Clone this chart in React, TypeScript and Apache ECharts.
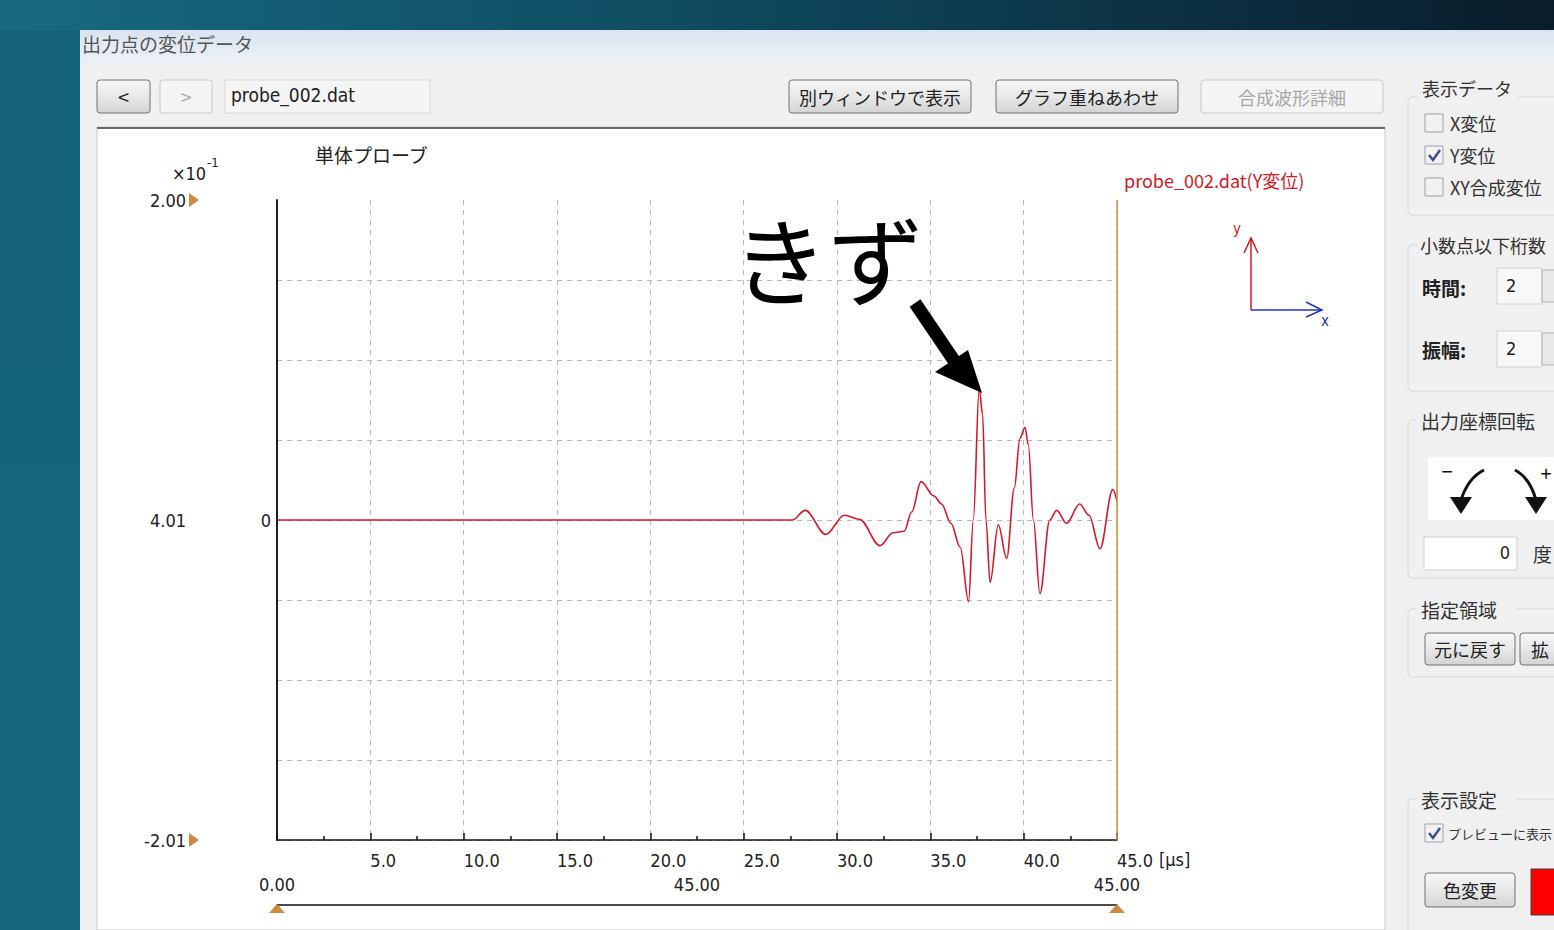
import React, { useEffect, useRef } from "react";
import * as echarts from "echarts";

// ---- data (time in µs, Y displacement) ----
const times = [0, 27.6, 28.3, 29.4, 30.4, 31.2, 32.3, 33.0, 33.6, 34.0, 34.5, 35.2, 35.6, 36.1, 36.6, 37.05, 37.3, 37.62, 37.8, 37.98, 38.2, 38.64, 39.09, 39.5, 39.8, 40.07, 40.25, 40.52, 40.87, 41.4, 41.77, 42.3, 43.0, 43.5, 44.09, 44.77, 45.0];
const values = [0, 0, 0.006, -0.009, 0.003, 0.0005, -0.016, -0.008, -0.007, 0.005, 0.024, 0.015, 0.01, -0.002, -0.017, -0.051, 0, 0.082, 0.066, 0, -0.039, -0.003, -0.024, 0.02, 0.051, 0.058, 0.047, 0, -0.046, 0, 0.006, -0.002, 0.01, 0.003, -0.018, 0.019, 0.012];
const seriesName = "probe_002.dat(Y変位)";
const outerTickLabels: Record<string, string> = { "0.2": "2.00", "0": "4.01", "-0.2": "-2.01" };
const sliderLabels: Record<string, string> = { "0": "0.00", "22.5": "45.00", "45": "45.00" };

const JP = "'Noto Sans CJK JP', 'Noto Sans', sans-serif";
const NUM = "'Liberation Sans Narrow', 'DejaVu Sans Condensed', 'Noto Sans', sans-serif";
const ORANGE = "#d08a40";

function button(x: number, y: number, w: number, h: number, label: string, disabled = false, fs = 18): any[] {
  return [
    {
      type: "rect", z: 50,
      shape: { x, y, width: w, height: h, r: 3 },
      style: disabled
        ? { fill: "#f4f4f4", stroke: "#c8c8c8", lineWidth: 1 }
        : { fill: new echarts.graphic.LinearGradient(0, 0, 0, 1, [{ offset: 0, color: "#f6f6f6" }, { offset: 0.5, color: "#e8e8e8" }, { offset: 1, color: "#d4d4d4" }]), stroke: "#707070", lineWidth: 1 },
    },
    {
      type: "text", z: 51,
      style: { text: label, x: x + w / 2, y: y + h / 2, textAlign: "center", textVerticalAlign: "middle", fontSize: fs, fontFamily: JP, fill: disabled ? "#a8a8a8" : "#222" },
    },
  ];
}

function jpText(text: string, x: number, y: number, fs = 18, fill = "#333", weight: any = "normal"): any {
  return { type: "text", z: 51, style: { text, x, y, textVerticalAlign: "middle", fontSize: fs, fontFamily: JP, fill, fontWeight: weight } };
}

function checkbox(x: number, y: number, checked: boolean): any[] {
  const els: any[] = [
    { type: "rect", z: 50, shape: { x, y, width: 18, height: 18 }, style: { fill: "#f2f2f2", stroke: "#9aa0a8", lineWidth: 1 } },
  ];
  if (checked) {
    els.push({ type: "polyline", z: 51, shape: { points: [[x + 4, y + 9], [x + 8, y + 14], [x + 15, y + 4]] }, style: { stroke: "#3d4f98", lineWidth: 2.5, fill: "none" } });
  }
  return els;
}

function groupFrame(x: number, y: number, w: number, h: number): any {
  return { type: "rect", z: 40, shape: { x, y, width: w, height: h, r: 4 }, style: { fill: "none", stroke: "#d4d9dd", lineWidth: 1 } };
}

export default function App() {
  const ref = useRef<HTMLDivElement>(null);
  useEffect(() => {
    document.body.style.margin = "0";
    document.body.style.overflow = "hidden";
    const chart = echarts.init(ref.current!, undefined, { renderer: "svg" });
    const data = times.map((t, i) => [t, values[i]]);
    const splitColors = ["#b8b8b8", "#b8b8b8", "#b8b8b8", "#b8b8b8", "#b8b8b8", "#b8b8b8", "#b8b8b8", "#b8b8b8", "transparent"];

    const graphic: any[] = [
      // page background
      {
        type: "rect", z: -20, shape: { x: 0, y: 0, width: 1554, height: 930 },
        style: { fill: new echarts.graphic.LinearGradient(0, 0, 1, 0, [{ offset: 0, color: "#176a82" }, { offset: 0.45, color: "#0f4a60" }, { offset: 1, color: "#0a1c2a" }]) },
      },
      { type: "rect", z: -20, shape: { x: 0, y: 30, width: 80, height: 900 }, style: { fill: new echarts.graphic.LinearGradient(0, 0, 0, 1, [{ offset: 0, color: "#15637b" }, { offset: 1, color: "#14667e" }]) } },
      // window
      { type: "rect", z: -19, shape: { x: 80, y: 30, width: 1474, height: 900 }, style: { fill: "#f0f0f0" } },
      { type: "rect", z: -19, shape: { x: 80, y: 30, width: 1474, height: 34 }, style: { fill: new echarts.graphic.LinearGradient(0, 0, 0, 1, [{ offset: 0, color: "#d9e4f0" }, { offset: 1, color: "#edf1f6" }]) } },
      { type: "text", z: 51, style: { text: "出力点の変位データ", x: 82, y: 43, textVerticalAlign: "middle", fontSize: 19, fontFamily: JP, fill: "#555" } },
      // chart white panel
      { type: "rect", z: -18, shape: { x: 97, y: 127, width: 1288, height: 803 }, style: { fill: "#ffffff", stroke: "#c8c8c8", lineWidth: 1 } },
      { type: "line", z: -17, shape: { x1: 97, y1: 128, x2: 1385, y2: 128 }, style: { stroke: "#6a6a6a", lineWidth: 2 } },
      // top controls
      ...button(97, 80, 53, 33, "<", false, 20),
      ...button(160, 80, 52, 33, ">", true, 20),
      { type: "rect", z: 50, shape: { x: 225, y: 80, width: 205, height: 33 }, style: { fill: "#f5f5f5", stroke: "#d8d8d8", lineWidth: 1 } },
      { type: "text", z: 51, style: { text: "probe_002.dat", x: 231, y: 95, textVerticalAlign: "middle", fontSize: 19, fontFamily: NUM, fill: "#222" } },
      ...button(789, 80, 182, 33, "別ウィンドウで表示"),
      ...button(996, 80, 182, 33, "グラフ重ねあわせ"),
      ...button(1201, 80, 182, 33, "合成波形詳細", true),

      // outer axis decorations
      { type: "text", z: 51, style: { text: "×10", x: 172, y: 173, textVerticalAlign: "middle", fontSize: 18, fontFamily: NUM, fill: "#222" } },
      { type: "text", z: 51, style: { text: "-1", x: 207, y: 162, textVerticalAlign: "middle", fontSize: 13, fontFamily: NUM, fill: "#222" } },
      { type: "polygon", z: 51, shape: { points: [[189, 193], [199, 200], [189, 207]] }, style: { fill: ORANGE } },
      { type: "polygon", z: 51, shape: { points: [[189, 833], [199, 840], [189, 847]] }, style: { fill: ORANGE } },
      // slider triangles
      { type: "polygon", z: 51, shape: { points: [[277, 904], [269, 913], [285, 913]] }, style: { fill: ORANGE } },
      { type: "polygon", z: 51, shape: { points: [[1117, 904], [1109, 913], [1125, 913]] }, style: { fill: ORANGE } },
      // unit
      { type: "text", z: 51, style: { text: "[μs]", x: 1159, y: 859, textVerticalAlign: "middle", fontSize: 18, fontFamily: NUM, fill: "#222" } },

      // annotation
      { type: "text", z: 60, style: { text: "きず", x: 828, y: 256, textAlign: "center", textVerticalAlign: "middle", fontSize: 96, fontFamily: JP, fill: "#000" } },
      { type: "line", z: 60, shape: { x1: 915, y1: 303, x2: 955, y2: 362 }, style: { stroke: "#000", lineWidth: 13 } },
      { type: "polygon", z: 60, shape: { points: [[982, 393], [935, 372], [968, 350]] }, style: { fill: "#000" } },

      // direction inset
      { type: "line", z: 55, shape: { x1: 1251, y1: 310, x2: 1251, y2: 238 }, style: { stroke: "#d01828", lineWidth: 1.5 } },
      { type: "polyline", z: 55, shape: { points: [[1244, 253], [1251, 238], [1258, 253]] }, style: { stroke: "#d01828", lineWidth: 1.5, fill: "none" } },
      { type: "line", z: 55, shape: { x1: 1251, y1: 310, x2: 1322, y2: 310 }, style: { stroke: "#2233b8", lineWidth: 1.5 } },
      { type: "polyline", z: 55, shape: { points: [[1306, 302], [1322, 310], [1306, 317]] }, style: { stroke: "#2233b8", lineWidth: 1.5, fill: "none" } },
      { type: "text", z: 55, style: { text: "y", x: 1233, y: 229, textVerticalAlign: "middle", fontSize: 15, fontFamily: NUM, fill: "#d01828" } },
      { type: "text", z: 55, style: { text: "x", x: 1321, y: 321, textVerticalAlign: "middle", fontSize: 15, fontFamily: NUM, fill: "#2233b8" } },

      // right panel
      groupFrame(1408, 97, 160, 118),
      { type: "rect", z: 45, shape: { x: 1418, y: 78, width: 100, height: 22 }, style: { fill: "#f0f0f0" } },
      jpText("表示データ", 1422, 88),
      ...checkbox(1425, 114, false), jpText("X変位", 1450, 123),
      ...checkbox(1425, 146, true), jpText("Y変位", 1450, 155),
      ...checkbox(1425, 178, false), jpText("XY合成変位", 1450, 187),

      groupFrame(1408, 245, 160, 146),
      { type: "rect", z: 45, shape: { x: 1418, y: 234, width: 140, height: 22 }, style: { fill: "#f0f0f0" } },
      jpText("小数点以下桁数", 1420, 245),
      jpText("時間:", 1422, 287, 19, "#222", "bold"),
      { type: "rect", z: 50, shape: { x: 1497, y: 268, width: 45, height: 36 }, style: { fill: "#f8f8f8", stroke: "#d0d0d0", lineWidth: 1 } },
      { type: "text", z: 51, style: { text: "2", x: 1506, y: 285, textVerticalAlign: "middle", fontSize: 18, fontFamily: NUM, fill: "#222" } },
      { type: "rect", z: 50, shape: { x: 1542, y: 270, width: 16, height: 32 }, style: { fill: "#e8e8e8", stroke: "#b0b0b0", lineWidth: 1 } },
      jpText("振幅:", 1422, 349, 19, "#222", "bold"),
      { type: "rect", z: 50, shape: { x: 1497, y: 331, width: 45, height: 36 }, style: { fill: "#f8f8f8", stroke: "#d0d0d0", lineWidth: 1 } },
      { type: "text", z: 51, style: { text: "2", x: 1506, y: 348, textVerticalAlign: "middle", fontSize: 18, fontFamily: NUM, fill: "#222" } },
      { type: "rect", z: 50, shape: { x: 1542, y: 333, width: 16, height: 32 }, style: { fill: "#e8e8e8", stroke: "#b0b0b0", lineWidth: 1 } },

      groupFrame(1408, 420, 160, 158),
      { type: "rect", z: 45, shape: { x: 1416, y: 408, width: 140, height: 24 }, style: { fill: "#f0f0f0" } },
      jpText("出力座標回転", 1421, 420, 19),
      { type: "rect", z: 50, shape: { x: 1428, y: 457, width: 130, height: 63 }, style: { fill: "#ffffff" } },
      { type: "text", z: 51, style: { text: "−", x: 1447, y: 470, textAlign: "center", textVerticalAlign: "middle", fontSize: 20, fontFamily: JP, fill: "#111" } },
      { type: "text", z: 51, style: { text: "+", x: 1546, y: 472, textAlign: "center", textVerticalAlign: "middle", fontSize: 20, fontFamily: JP, fill: "#111" } },
      { type: "bezierCurve", z: 51, shape: { x1: 1484, y1: 470, cpx1: 1468, cpy1: 478, x2: 1461, y2: 500 }, style: { stroke: "#111", lineWidth: 3, fill: "none" } },
      { type: "polygon", z: 51, shape: { points: [[1450, 497], [1472, 497], [1461, 514]] }, style: { fill: "#111" } },
      { type: "bezierCurve", z: 51, shape: { x1: 1515, y1: 470, cpx1: 1530, cpy1: 478, x2: 1536, y2: 500 }, style: { stroke: "#111", lineWidth: 3, fill: "none" } },
      { type: "polygon", z: 51, shape: { points: [[1525, 497], [1547, 497], [1536, 514]] }, style: { fill: "#111" } },
      { type: "rect", z: 50, shape: { x: 1424, y: 537, width: 93, height: 33 }, style: { fill: "#ffffff", stroke: "#d0d0d0", lineWidth: 1 } },
      { type: "text", z: 51, style: { text: "0", x: 1510, y: 552, textAlign: "right", textVerticalAlign: "middle", fontSize: 18, fontFamily: NUM, fill: "#222" } },
      jpText("度", 1533, 553, 19),

      groupFrame(1408, 609, 160, 68),
      { type: "rect", z: 45, shape: { x: 1416, y: 597, width: 100, height: 24 }, style: { fill: "#f0f0f0" } },
      jpText("指定領域", 1421, 609, 19),
      ...button(1425, 633, 90, 32, "元に戻す"),
      ...button(1520, 633, 60, 32, ""),
      jpText("拡", 1531, 649, 18, "#222"),

      groupFrame(1408, 799, 160, 140),
      { type: "rect", z: 45, shape: { x: 1416, y: 787, width: 100, height: 24 }, style: { fill: "#f0f0f0" } },
      jpText("表示設定", 1421, 799, 19),
      ...checkbox(1425, 824, true), jpText("プレビューに表示", 1448, 833, 13, "#333"),
      ...button(1425, 873, 90, 34, "色変更"),
      { type: "rect", z: 50, shape: { x: 1531, y: 869, width: 40, height: 46 }, style: { fill: "#ff0000", stroke: "#404040", lineWidth: 1 } },
    ];

    chart.setOption({
      animation: false,
      title: {
        text: "単体プローブ", left: 310, top: 140,
        textStyle: { fontSize: 19, fontWeight: "normal", fontFamily: JP, color: "#222" },
      },
      legend: {
        data: [{ name: seriesName, icon: "none" }],
        left: 1114, top: 166, itemWidth: 0, itemGap: 0,
        textStyle: { fontSize: 18, fontFamily: JP, color: "#d01828" },
        selectedMode: false,
      },
      grid: { left: 277, top: 200, width: 840, height: 640, containLabel: false },
      xAxis: [
        {
          type: "value", min: 0, max: 45, interval: 5,
          axisLine: { show: true, onZero: false, lineStyle: { color: "#111", width: 1.5 } },
          axisTick: { show: true, inside: true, length: 7, lineStyle: { color: "#111", width: 1.5 } },
          minorTick: { show: true, splitNumber: 2, length: 4, lineStyle: { color: "#111", width: 1.5 } },
          axisLabel: {
            show: true, align: "left", margin: 11, fontSize: 18, fontFamily: NUM, color: "#222",
            formatter: (v: number) => (v === 0 ? "" : v.toFixed(1)),
          },
          splitLine: { show: true, lineStyle: { color: "#b8b8b8", type: [5, 5], width: 1 } },
        },
        {
          type: "value", min: 0, max: 45, interval: 22.5, position: "bottom", offset: 65,
          axisLine: { show: true, onZero: false, lineStyle: { color: "#111", width: 1.5 } },
          axisTick: { show: false },
          axisLabel: {
            show: true, inside: true, margin: 12, fontSize: 18, fontFamily: NUM, color: "#222",
            showMinLabel: true, showMaxLabel: true,
            formatter: (v: number) => sliderLabels[String(v)] ?? "",
          },
          splitLine: { show: false },
        },
      ],
      yAxis: [
        {
          type: "value", min: -0.2, max: 0.2, interval: 0.05,
          axisLine: { show: true, lineStyle: { color: "#111", width: 1.5 } },
          axisTick: { show: false },
          axisLabel: {
            show: true, margin: 6, fontSize: 18, fontFamily: NUM, color: "#222",
            formatter: (v: number) => (Math.abs(v) < 1e-9 ? "0" : ""),
          },
          splitLine: { show: true, lineStyle: { color: splitColors, type: [5, 5], width: 1 } },
        },
        {
          type: "value", min: -0.2, max: 0.2, interval: 0.2, position: "left", offset: 81,
          axisLine: { show: true, lineStyle: { color: "#111", width: 1.5 } },
          axisTick: { show: false },
          axisLabel: {
            show: true, margin: 10, fontSize: 18, fontFamily: NUM, color: "#222",
            formatter: (v: number) => outerTickLabels[String(Math.round(v * 10) / 10)] ?? "",
          },
          splitLine: { show: false },
        },
      ],
      series: [
        {
          name: seriesName, type: "line", data, xAxisIndex: 0, yAxisIndex: 0,
          showSymbol: false, smooth: 0.35, smoothMonotone: "x",
          lineStyle: { color: "#d41a2a", width: 1.6 },
          itemStyle: { color: "#d41a2a" },
          markLine: {
            silent: true, symbol: ["none", "none"], label: { show: false },
            lineStyle: { color: ORANGE, type: "solid", width: 1.5 },
            data: [{ xAxis: 45 }],
          },
        },
      ],
      graphic,
    });
    return () => chart.dispose();
  }, []);
  return <div ref={ref} style={{ position: "absolute", left: 0, top: 0, width: 1554, height: 930 }} />;
}
